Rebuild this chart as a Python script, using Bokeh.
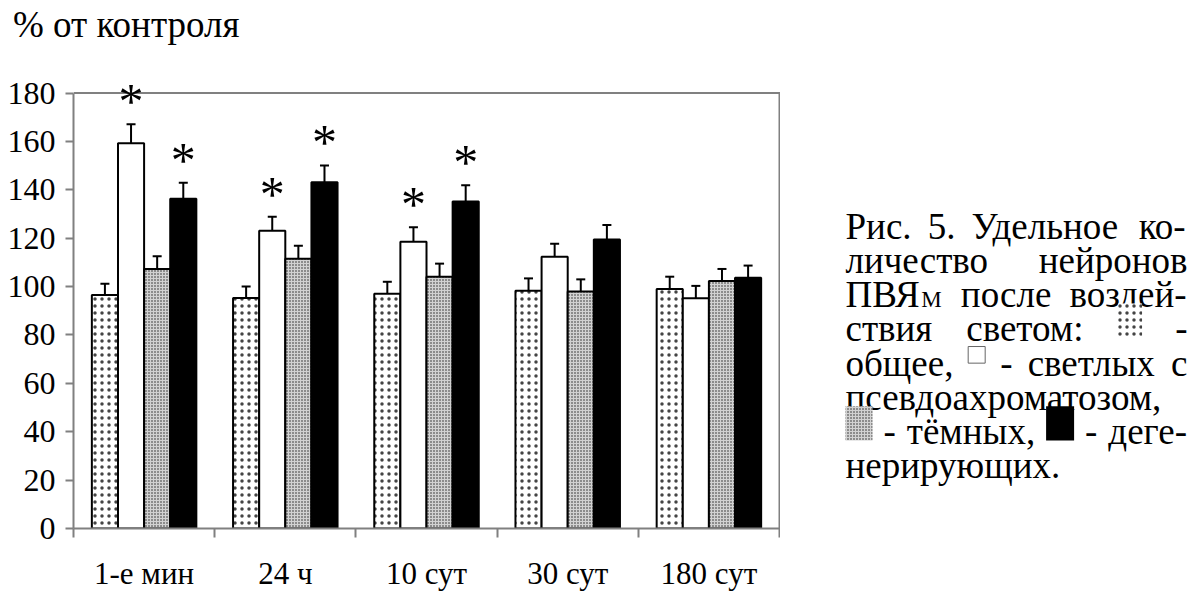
from bokeh.plotting import figure
from bokeh.models import (Range1d, FixedTicker, Whisker, TeeHead, ColumnDataSource,
                          LabelSet, Span, Div)
from bokeh.layouts import row, column
from bokeh.core.properties import value
from bokeh.embed import file_html
from bokeh.resources import INLINE

# ---------------- data ----------------
categories = ["1-е мин", "24 ч", "10 сут", "30 сут", "180 сут"]
total = [96.5, 95.3, 97.0, 98.3, 99.0]
total_err = [4.7, 4.7, 5.0, 5.1, 5.1]
light = [159.3, 123.1, 118.5, 112.3, 95.2]
light_err = [7.8, 5.8, 6.0, 5.4, 5.1]
dark = [107.3, 111.5, 104.1, 98.0, 102.3]
dark_err = [5.3, 5.4, 5.4, 5.0, 5.0]
degen = [136.3, 143.1, 135.2, 119.5, 103.7]
degen_err = [6.6, 7.0, 6.7, 6.0, 5.0]
light_sig = [True, True, True, False, False]
degen_sig = [True, True, True, False, False]
y_ticks = [0, 20, 40, 60, 80, 100, 120, 140, 160, 180]
y_max = 180
y_axis_title = "% от контроля"

FONT = "'Liberation Serif'"
GRAY = "#808080"

# page geometry (pixels)
W, H = 1192, 593
TITLE_H = 50            # height of the header strip with the axis title
FRAME_TOP = 75          # frame extends above the 180 line so asterisks are not clipped
AXIS_TOP = 93           # y position of the 180 line
AXIS_BOTTOM = 538       # y position of the 0 line
y_end = y_max * (AXIS_BOTTOM - FRAME_TOP) / (AXIS_BOTTOM - AXIS_TOP)

styles = {
    "total": dict(fill_color="white", hatch_pattern="dot", hatch_color="#444444",
                  hatch_scale=7, hatch_weight=0.5),
    "light": dict(fill_color="white"),
    "dark": dict(fill_color="#d2d2d2", hatch_pattern="dot", hatch_color="#222222",
                 hatch_scale=3, hatch_weight=1.0),
    "degen": dict(fill_color="black"),
}
series = [("total", total, total_err, None),
          ("light", light, light_err, light_sig),
          ("dark", dark, dark_err, None),
          ("degen", degen, degen_err, degen_sig)]

BW = 0.185
ncat = len(categories)

title = Div(text=y_axis_title, width=W, height=TITLE_H, margin=(0, 0, 0, 0),
            styles={"font-family": "'Liberation Serif', serif", "font-size": "37px",
                    "line-height": "37px", "padding-left": "13px", "padding-top": "6px",
                    "color": "black", "white-space": "nowrap"})

p = figure(width=780, height=H - TITLE_H, x_range=Range1d(0, ncat + 0.007),
           y_range=Range1d(0, y_end), output_backend="svg", toolbar_location=None,
           min_border_left=73, min_border_right=0, min_border_top=FRAME_TOP - TITLE_H,
           min_border_bottom=H - AXIS_BOTTOM)
p.xgrid.visible = False
p.ygrid.visible = False
p.outline_line_color = None
p.background_fill_color = "white"
p.border_fill_color = "white"

# box lines (top at 180 and right side)
p.add_layout(Span(location=y_max, dimension="width", line_color=GRAY, line_width=2))
p.segment(x0=[ncat], y0=[0], x1=[ncat], y1=[y_max], line_color=GRAY, line_width=2)

for k, (key, vals, errs, sig) in enumerate(series):
    xs = [i + 0.5 + (k - 1.5) * BW for i in range(ncat)]
    src = ColumnDataSource(dict(x=xs, top=vals, upper=[v + e for v, e in zip(vals, errs)],
                                lower=[v - e for v, e in zip(vals, errs)]))
    p.vbar(x="x", top="top", bottom=0, width=BW, source=src, line_color="black",
           line_width=2, **styles[key])
    w = Whisker(source=src, base="x", upper="upper", lower="lower", line_width=2,
                line_color="black",
                upper_head=TeeHead(size=9, line_width=2, line_color="black"),
                lower_head=TeeHead(size=9, line_width=2, line_color="black"))
    p.add_layout(w)
    if sig:
        sx = [x for x, s in zip(xs, sig) if s]
        sy = [v + e for v, e, s in zip(vals, errs, sig) if s]
        ssrc = ColumnDataSource(dict(x=sx, y=sy, t=["*"] * len(sx)))
        p.add_layout(LabelSet(x="x", y="y", text="t", source=ssrc, y_offset=6,
                              text_align="center", text_baseline="alphabetic",
                              text_font=value(FONT), text_font_size="50px",
                              text_color="black"))

# y axis
p.yaxis.ticker = FixedTicker(ticks=y_ticks)
p.yaxis.bounds = (0, y_max)
p.yaxis.axis_line_color = GRAY
p.yaxis.axis_line_width = 2
p.yaxis.major_tick_line_color = GRAY
p.yaxis.major_tick_line_width = 2
p.yaxis.major_tick_out = 8
p.yaxis.major_tick_in = 0
p.yaxis.minor_tick_line_color = None
p.yaxis.major_label_standoff = 10
p.yaxis.major_label_text_font = FONT
p.yaxis.major_label_text_font_size = "32px"
p.yaxis.major_label_text_color = "black"

# x axis
centers = [i + 0.5 for i in range(ncat)]
p.xaxis.ticker = FixedTicker(ticks=centers, minor_ticks=list(range(ncat + 1)))
p.xaxis.major_label_overrides = {c: lab for c, lab in zip(centers, categories)}
p.xaxis.axis_line_color = GRAY
p.xaxis.axis_line_width = 2
p.xaxis.major_tick_out = 0
p.xaxis.major_tick_in = 0
p.xaxis.major_tick_line_color = None
p.xaxis.minor_tick_out = 9
p.xaxis.minor_tick_in = 0
p.xaxis.minor_tick_line_color = GRAY
p.xaxis.minor_tick_line_width = 2
p.xaxis.major_label_standoff = 18
p.xaxis.major_label_text_font = FONT
p.xaxis.major_label_text_font_size = "31px"
p.xaxis.major_label_text_color = "black"

# ---------------- caption (figure legend text) ----------------
c = figure(width=W - 780, height=H - TITLE_H, x_range=Range1d(780, W),
           y_range=Range1d(AXIS_BOTTOM, FRAME_TOP),
           output_backend="svg", toolbar_location=None, min_border_left=0,
           min_border_right=0, min_border_top=FRAME_TOP - TITLE_H,
           min_border_bottom=H - AXIS_BOTTOM,
           x_axis_location=None, y_axis_location=None)
c.xgrid.visible = False
c.ygrid.visible = False
c.outline_line_color = None
c.background_fill_color = "white"
c.border_fill_color = "white"

CW = {
    'а': 444, 'б': 500, 'в': 472, 'г': 410, 'д': 509, 'е': 444, 'ё': 444, 'ж': 691,
    'з': 395, 'и': 535, 'й': 535, 'к': 486, 'л': 499, 'м': 633, 'н': 535, 'о': 500,
    'п': 535, 'р': 500, 'с': 444, 'т': 437, 'у': 500, 'ф': 648, 'х': 500, 'ц': 535,
    'ч': 503, 'ш': 770, 'щ': 770, 'ъ': 517, 'ы': 672, 'ь': 456, 'э': 429, 'ю': 747,
    'я': 481, 'П': 722, 'В': 667, 'Я': 660, 'Р': 556, 'У': 698, 'М': 889,
    '.': 250, ',': 250, '-': 333, ':': 278, ' ': 250, '5': 500,
}
FS = 37
SUBFS = 23


def tw(s, size=FS):
    return sum(CW.get(ch, 500) for ch in s) / 1000.0 * size


box_w = {"total": 24, "light": 17, "dark": 27, "degen": 28}
lines = [
    ([("t", "Рис."), ("t", "5."), ("t", "Удельное"), ("t", "ко-")], True),
    ([("t", "личество"), ("t", "нейронов")], True),
    ([("sub", "ПВЯ", "М"), ("t", "после"), ("t", "воздей-")], True),
    ([("t", "ствия"), ("t", "светом:"), ("box", "total"), ("t", "-")], True),
    ([("t", "общее,"), ("box", "light"), ("t", "-"), ("t", "светлых"), ("t", "с")], True),
    ([("t", "псевдоахроматозом,")], False),
    ([("box", "dark"), ("t", "-"), ("t", "тёмных,"), ("box", "degen"), ("t", "-"),
      ("t", "деге-")], True),
    ([("t", "нерирующих.")], False),
]
LEFT, RIGHT = 845, 1187
BASE0, PITCH = 229, 35

tx, ty, tt = [], [], []
sx, sy, st = [], [], []
boxes = {k: dict(l=[], r=[], t=[], b=[]) for k in box_w}
for li, (items, justify) in enumerate(lines):
    base = BASE0 + li * PITCH
    widths = []
    for it in items:
        if it[0] == "t":
            widths.append(tw(it[1]))
        elif it[0] == "sub":
            widths.append(tw(it[1]) + tw(it[2], SUBFS))
        else:
            widths.append(box_w[it[1]])
    gaps = len(items) - 1
    if justify and gaps > 0:
        gap = (RIGHT - LEFT - sum(widths)) / gaps
    else:
        gap = tw(" ")
    x = LEFT
    for it, w in zip(items, widths):
        if it[0] == "t":
            tx.append(x); ty.append(base); tt.append(it[1])
        elif it[0] == "sub":
            tx.append(x); ty.append(base); tt.append(it[1])
            sx.append(x + tw(it[1])); sy.append(base + 5); st.append(it[2])
        else:
            k = it[1]
            if k == "light":
                top, bot = base - 17, base
            else:
                top, bot = base - 26, base + 9
            boxes[k]["l"].append(x); boxes[k]["r"].append(x + w)
            boxes[k]["t"].append(top); boxes[k]["b"].append(bot)
        x += w + gap

c.text(x=tx, y=ty, text=tt, text_font=value(FONT), text_font_size=f"{FS}px",
       text_baseline="alphabetic", text_align="left", text_color="black")
c.text(x=sx, y=sy, text=st, text_font=value(FONT), text_font_size=f"{SUBFS}px",
       text_baseline="alphabetic", text_align="left", text_color="black")
for k, b in boxes.items():
    st_k = dict(styles[k])
    if k == "light":
        lc, lw = "#666666", 1
    else:
        lc, lw = None, 0
    c.quad(left=b["l"], right=b["r"], top=b["t"], bottom=b["b"], line_color=lc,
           line_width=lw, **st_k)

layout = column(title, row(p, c))
open("out.html", "w").write(file_html(layout, INLINE))
